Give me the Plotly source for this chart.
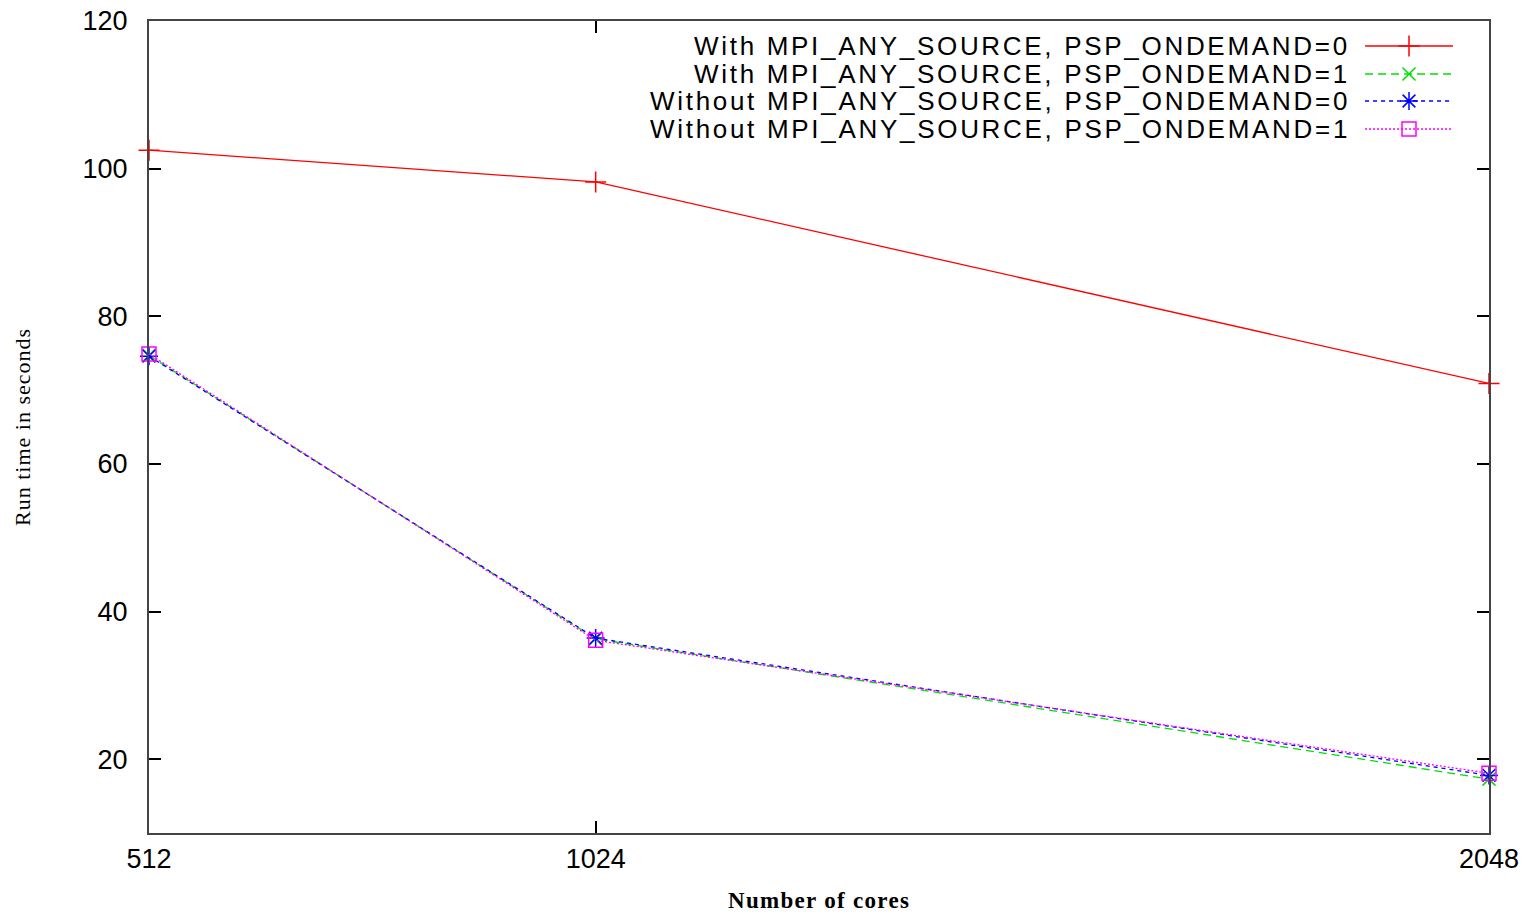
import plotly.graph_objects as go

cores = [512, 1024, 2048]
series_names = [
    "With MPI_ANY_SOURCE, PSP_ONDEMAND=0",
    "With MPI_ANY_SOURCE, PSP_ONDEMAND=1",
    "Without MPI_ANY_SOURCE, PSP_ONDEMAND=0",
    "Without MPI_ANY_SOURCE, PSP_ONDEMAND=1",
]
with_any_od0 = [102.5, 98.2, 70.9]
with_any_od1 = [74.7, 36.3, 17.3]
without_any_od0 = [74.6, 36.4, 17.8]
without_any_od1 = [74.9, 36.1, 18.1]
y_ticks = [20, 40, 60, 80, 100, 120]

values = [with_any_od0, with_any_od1, without_any_od0, without_any_od1]
colors = ["#ff0000", "#00e000", "#0000ff", "#ff00ff"]
dashes = ["solid", "8px,5px", "4px,4px", "2px,2px"]
symbols = ["cross-thin", "x-thin", "asterisk-open", "square-open"]
sizes = [15, 13, 15, 14]

SANS = "Liberation Sans, Arial, sans-serif"
SERIF = "Liberation Serif, Times New Roman, serif"

fig = go.Figure()
for name, vals, c, d, s, sz in zip(series_names, values, colors, dashes, symbols, sizes):
    fig.add_trace(go.Scatter(
        x=cores, y=vals, mode="lines+markers", name=name,
        line=dict(color=c, width=1.3, dash=d),
        marker=dict(symbol=s, size=sz, color=c, line=dict(color=c, width=1.5)),
        cliponaxis=False, showlegend=False,
    ))

# Legend in gnuplot style: right-aligned text, sample to the right
leg_y = [0.9692, 0.9347, 0.9015, 0.8670]
for name, c, d, s, sz, ly in zip(series_names, colors, dashes, symbols, sizes, leg_y):
    fig.add_trace(go.Scatter(
        x=[0.9075, 0.9731], y=[ly, ly], xaxis="x2", yaxis="y2",
        mode="lines", line=dict(color=c, width=1.3, dash=d),
        showlegend=False, hoverinfo="skip", cliponaxis=False,
    ))
    fig.add_trace(go.Scatter(
        x=[0.9403], y=[ly], xaxis="x2", yaxis="y2",
        mode="markers",
        marker=dict(symbol=s, size=sz, color=c, line=dict(color=c, width=1.5)),
        showlegend=False, hoverinfo="skip", cliponaxis=False,
    ))
    fig.add_annotation(
        x=0.8975, y=ly, xref="paper", yref="paper",
        text=f'<span style="letter-spacing:2.7px">{name}</span>',
        showarrow=False, xanchor="right", yanchor="middle",
        font=dict(family=SANS, size=26, color="black"),
    )

fig.add_annotation(
    x=0.5, y=-0.0837, xref="paper", yref="paper",
    text='<span style="letter-spacing:1.3px"><b>Number of cores</b></span>',
    showarrow=False, xanchor="center", yanchor="middle",
    font=dict(family=SERIF, size=23, color="black"),
)
fig.add_annotation(
    x=-0.0948, y=0.5, xref="paper", yref="paper", textangle=-90,
    text='<span style="letter-spacing:1px">Run time in seconds</span>',
    showarrow=False, xanchor="center", yanchor="middle",
    font=dict(family=SERIF, size=22, color="black"),
)

axis_common = dict(
    showline=True, linecolor="#444444", linewidth=2, mirror="ticks",
    ticks="inside", ticklen=12, tickcolor="black", tickwidth=1.5,
    showgrid=False, zeroline=False, automargin=False,
    tickfont=dict(family=SANS, size=27, color="black"),
)

fig.update_layout(
    width=1535, height=914,
    margin=dict(l=149, r=46, t=21, b=81),
    plot_bgcolor="white", paper_bgcolor="white",
    xaxis=dict(range=[512, 2048], tickvals=cores, ticktext=[str(c) for c in cores],
               ticklabelstandoff=1, **axis_common),
    yaxis=dict(range=[10, 120], tickvals=y_ticks, ticklabelstandoff=14, **axis_common),
    xaxis2=dict(range=[0, 1], overlaying="x", visible=False, fixedrange=True),
    yaxis2=dict(range=[0, 1], overlaying="y", visible=False, fixedrange=True),
)

fig.write_html(
    "out.html",
    config={"displayModeBar": False},
    post_script="document.body.style.margin='0';document.body.style.overflow='hidden';",
)
